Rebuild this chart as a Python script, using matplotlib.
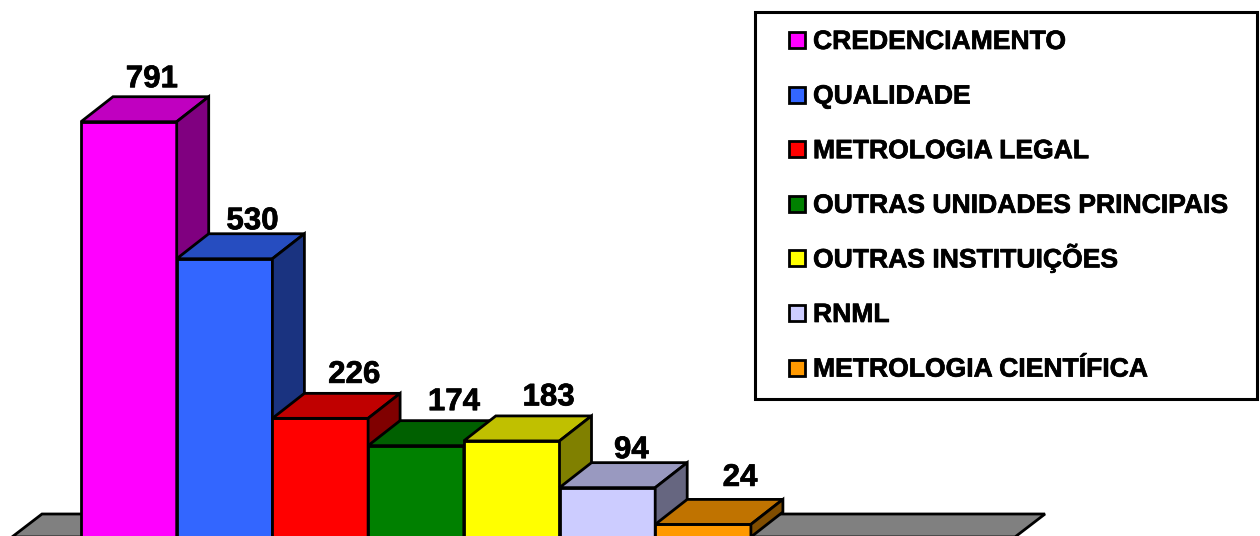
import matplotlib
matplotlib.use('Agg')
import matplotlib.pyplot as plt
import matplotlib.patheffects as pe
from matplotlib.patches import Polygon, Rectangle

plt.rcParams['font.family'] = ['Liberation Sans', 'DejaVu Sans']

labels = ['CREDENCIAMENTO', 'QUALIDADE', 'METROLOGIA LEGAL', 'OUTRAS UNIDADES PRINCIPAIS',
          'OUTRAS INSTITUIÇÕES', 'RNML', 'METROLOGIA CIENTÍFICA']
values = [791, 530, 226, 174, 183, 94, 24]
front = ['#FF00FF', '#3366FF', '#FF0000', '#008000', '#FFFF00', '#CCCCFF', '#FF9900']
top = ['#C000C0', '#264DC0', '#C00000', '#006000', '#C0C000', '#9999C0', '#C07300']
side = ['#800080', '#1A3380', '#800000', '#004000', '#808000', '#666680', '#804D00']

# where the value labels sit relative to the bar (pixels)
label_dx = [23, 28, 34, 38, 37, 24, 37]
label_gap = [9.5, 4.5, 10.5, 10.5, 10.5, 4.5, 13.5]

W, H = 1260, 536
x0, bw = 81, 95.7
py_per_unit = 0.525
base = 537
dx, dy = 32, 25 / py_per_unit
lw = 2.0
bold = [pe.withStroke(linewidth=0.5, foreground='black')]

fig = plt.figure(figsize=(W / 100, H / 100), dpi=100)
ax = fig.add_axes([0, 0, 1, 1])
ax.set_xlim(0, W)
ax.set_ylim((base - H) / py_per_unit, base / py_per_unit)
ax.axis('off')

# floor
ax.add_patch(Polygon([(12, 0), (42, dy * 23 / 25), (1045, dy * 23 / 25), (1015, 0)],
                     fc='#808080', ec='black', lw=lw, zorder=1))

xs = [x0 + bw * i for i in range(len(values))]
for i, (x, v) in enumerate(zip(xs, values)):
    z = 2 + i
    ax.bar(x, v, width=bw, align='edge', color=front[i], edgecolor='black', lw=lw, zorder=z)
    ax.add_patch(Polygon([(x, v), (x + dx, v + dy), (x + bw + dx, v + dy), (x + bw, v)],
                         fc=top[i], ec='black', lw=lw, zorder=z))
    ax.add_patch(Polygon([(x + bw, 0), (x + bw + dx, dy), (x + bw + dx, v + dy), (x + bw, v)],
                         fc=side[i], ec='black', lw=lw, zorder=z))
    ax.text(x + bw / 2 + label_dx[i], v + dy + label_gap[i] / py_per_unit, str(v),
            ha='center', va='baseline', fontsize=22.5, fontweight='bold', zorder=20,
            path_effects=bold)

# legend, in figure pixels
def fx(p):
    return p / W
def fy(p):
    return 1 - p / H

fig.patches.append(Rectangle((fx(755), fy(399)), 502 / W, 387 / H, transform=fig.transFigure,
                             fc='white', ec='black', lw=2.2, zorder=30))
for i, lab in enumerate(labels):
    yc = 40 + 54.6 * i
    fig.patches.append(Rectangle((fx(789), fy(yc + 8)), 16 / W, 16 / H, transform=fig.transFigure,
                                 fc=front[i], ec='black', lw=2.0, zorder=31))
    fig.text(fx(813), fy(yc + 9), lab, ha='left', va='baseline', fontsize=19.1, fontweight='bold',
             zorder=32, path_effects=bold)

fig.savefig('out.png', dpi=100)
